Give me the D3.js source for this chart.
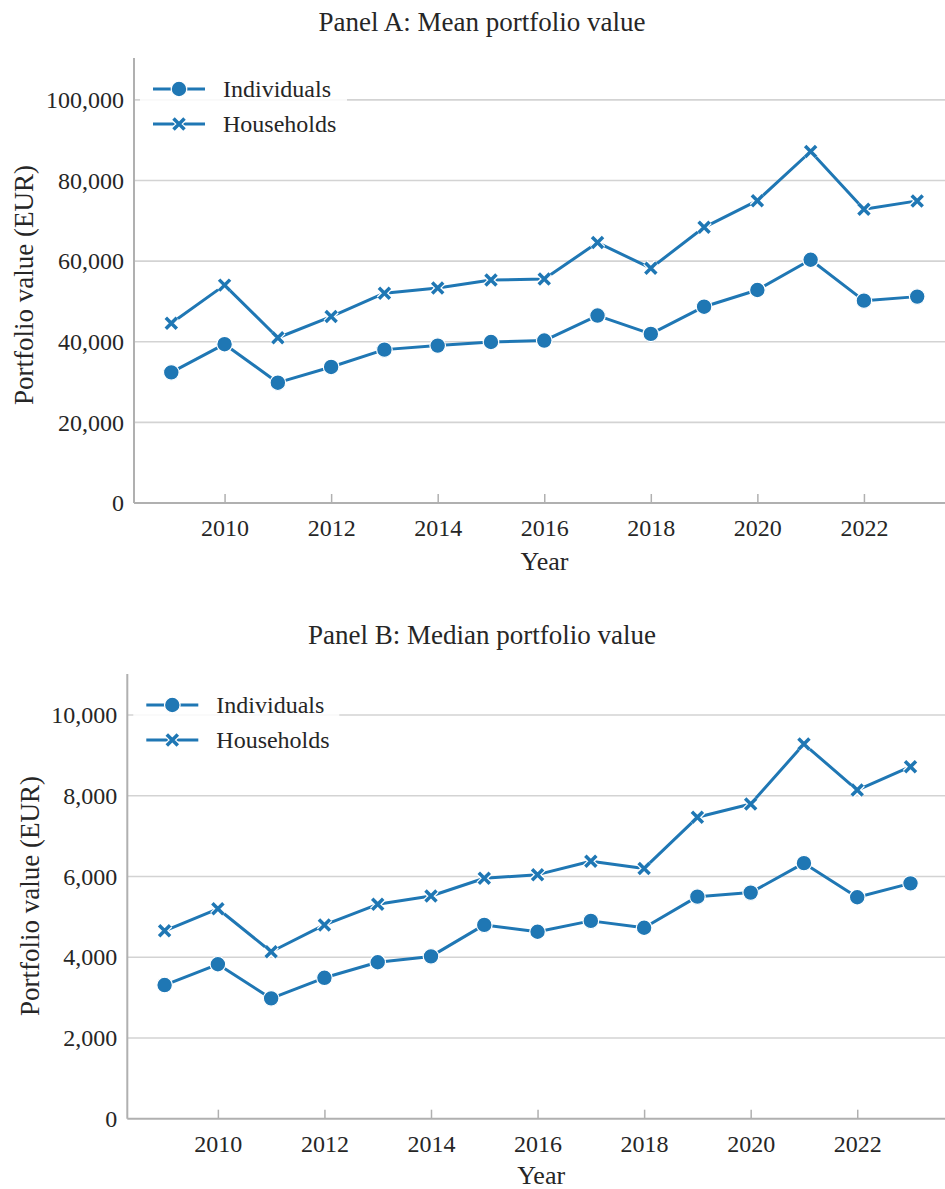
<!DOCTYPE html>
<html>
<head>
<meta charset="utf-8">
<script src="https://cdn.jsdelivr.net/npm/d3@7"></script>
<style>
  html, body { margin: 0; padding: 0; background: #fff; }
  svg text { font-family: "Liberation Serif", "Times New Roman", serif; fill: #262626; }
</style>
</head>
<body>
<svg id="chart" width="945" height="1189"></svg>
<script>
// Survey years
const years = [2009, 2010, 2011, 2012, 2013, 2014, 2015, 2016, 2017, 2018, 2019, 2020, 2021, 2022, 2023];

// Panel A: mean portfolio value (EUR)
const meanIndividuals = [32400, 39400, 29850, 33750, 38050, 39050, 39950, 40300, 46500, 41950, 48700, 52850, 60350, 50200, 51200];
const meanHouseholds  = [44600, 54050, 41000, 46250, 52050, 53350, 55300, 55600, 64600, 58250, 68400, 75000, 87200, 72900, 74950];

// Panel B: median portfolio value (EUR)
const medianIndividuals = [3310, 3825, 2980, 3490, 3875, 4020, 4800, 4630, 4900, 4730, 5500, 5600, 6330, 5485, 5830];
const medianHouseholds  = [4655, 5200, 4135, 4800, 5310, 5515, 5955, 6045, 6375, 6200, 7465, 7795, 9280, 8140, 8720];

// Axis ticks
const xTicks = [2010, 2012, 2014, 2016, 2018, 2020, 2022];
const yTicksA = [0, 20000, 40000, 60000, 80000, 100000];
const yTicksB = [0, 2000, 4000, 6000, 8000, 10000];

const seriesNames = ["Individuals", "Households"];

const svg = d3.select("#chart");
const blue = "#1f77b4";
const fmt = d3.format(",");

function drawPanel(opts) {
  const { title, titleY, left, top, bottom, right, yMax, yTicks, ind, hh, xLabelY, yLabelX, yLabelY, legendW } = opts;
  const x = d3.scaleLinear().domain([2008.3, 2023.7]).range([left, right]);
  const y = d3.scaleLinear().domain([0, yMax]).range([bottom, top]);
  const g = svg.append("g");

  // title
  g.append("text").attr("x", 482).attr("y", titleY).attr("text-anchor", "middle")
    .style("font-size", "27px").text(title);

  // horizontal gridlines
  g.append("g").selectAll("line").data(yTicks.filter(d => d > 0)).join("line")
    .attr("x1", left).attr("x2", 945)
    .attr("y1", d => y(d)).attr("y2", d => y(d))
    .attr("stroke", "#d3d3d3").attr("stroke-width", 1.6);

  // y axis (labels only, spine drawn separately)
  const yAxis = g.append("g").attr("transform", `translate(${left},0)`)
    .call(d3.axisLeft(y).tickValues(yTicks).tickFormat(fmt).tickSize(0).tickPadding(10));
  yAxis.select(".domain").remove();
  yAxis.selectAll("text").style("font-size", "24px").attr("fill", "#262626")
    .style("font-family", '"Liberation Serif", serif');

  // x axis
  const xAxis = g.append("g").attr("transform", `translate(0,${bottom})`)
    .call(d3.axisBottom(x).tickValues(xTicks).tickFormat(d3.format("d")).tickSize(-9).tickPadding(16));
  xAxis.select(".domain").remove();
  xAxis.selectAll(".tick line").attr("stroke", "#b0b0b0").attr("stroke-width", 1.5);
  xAxis.selectAll("text").style("font-size", "24px").attr("fill", "#262626")
    .style("font-family", '"Liberation Serif", serif');

  // spines
  g.append("line").attr("x1", left).attr("x2", left).attr("y1", top).attr("y2", bottom)
    .attr("stroke", "#b0b0b0").attr("stroke-width", 2);
  g.append("line").attr("x1", left).attr("x2", 945).attr("y1", bottom).attr("y2", bottom)
    .attr("stroke", "#b0b0b0").attr("stroke-width", 2);

  // axis labels
  g.append("text").attr("x", (left + 945) / 2 + 5).attr("y", xLabelY).attr("text-anchor", "middle")
    .style("font-size", "26px").text("Year");
  g.append("text").attr("transform", `translate(${yLabelX},${yLabelY}) rotate(-90)`)
    .attr("text-anchor", "middle").style("font-size", "27px").text("Portfolio value (EUR)");

  const line = d3.line().x((d, i) => x(years[i])).y(d => y(d));

  // series lines
  [ind, hh].forEach(vals => {
    g.append("path").datum(vals).attr("d", line)
      .attr("fill", "none").attr("stroke", blue).attr("stroke-width", 3).attr("stroke-linejoin", "round");
  });

  // markers: circles for individuals, crosses for households
  g.append("g").selectAll("circle").data(ind).join("circle")
    .attr("cx", (d, i) => x(years[i])).attr("cy", d => y(d)).attr("r", 7.8)
    .attr("fill", blue).attr("stroke", "#fff").attr("stroke-width", 1.2);

  const cross = (cx, cy, s) => `M${cx - s},${cy - s}L${cx + s},${cy + s}M${cx - s},${cy + s}L${cx + s},${cy - s}`;
  const cg = g.append("g");
  hh.forEach((d, i) => {
    const cx = x(years[i]), cy = y(d);
    cg.append("path").attr("d", cross(cx, cy, 5.5)).attr("stroke", "#fff").attr("stroke-width", 6).attr("stroke-linecap", "butt");
    cg.append("path").attr("d", cross(cx, cy, 5.5)).attr("stroke", blue).attr("stroke-width", 3.5).attr("stroke-linecap", "butt");
  });

  // legend
  const lx = left + 6, ly = top + 10;
  const lg = g.append("g");
  lg.append("rect").attr("x", lx).attr("y", ly).attr("width", legendW).attr("height", 76)
    .attr("rx", 4).attr("fill", "#fff").attr("fill-opacity", 0.85);
  seriesNames.forEach((name, k) => {
    const yy = ly + 21 + k * 35;
    lg.append("line").attr("x1", lx + 13).attr("x2", lx + 65).attr("y1", yy).attr("y2", yy)
      .attr("stroke", blue).attr("stroke-width", 3);
    if (k === 0) {
      lg.append("circle").attr("cx", lx + 39).attr("cy", yy).attr("r", 7.8)
        .attr("fill", blue).attr("stroke", "#fff").attr("stroke-width", 1.2);
    } else {
      lg.append("path").attr("d", cross(lx + 39, yy, 5.5)).attr("stroke", "#fff").attr("stroke-width", 6);
      lg.append("path").attr("d", cross(lx + 39, yy, 5.5)).attr("stroke", blue).attr("stroke-width", 3.5);
    }
    lg.append("text").attr("x", lx + 83).attr("y", yy).attr("dy", "0.35em")
      .style("font-size", "24px").text(name);
  });
}

drawPanel({
  title: "Panel A: Mean portfolio value", titleY: 31,
  left: 134, top: 58, bottom: 503, right: 954.5,
  yMax: 110400, yTicks: yTicksA, ind: meanIndividuals, hh: meanHouseholds,
  xLabelY: 570, yLabelX: 33, yLabelY: 285, legendW: 207
});

drawPanel({
  title: "Panel B: Median portfolio value", titleY: 644,
  left: 127.3, top: 674, bottom: 1118.7, right: 947.8,
  yMax: 11015, yTicks: yTicksB, ind: medianIndividuals, hh: medianHouseholds,
  xLabelY: 1184, yLabelX: 39, yLabelY: 896, legendW: 206
});
</script>
</body>
</html>
